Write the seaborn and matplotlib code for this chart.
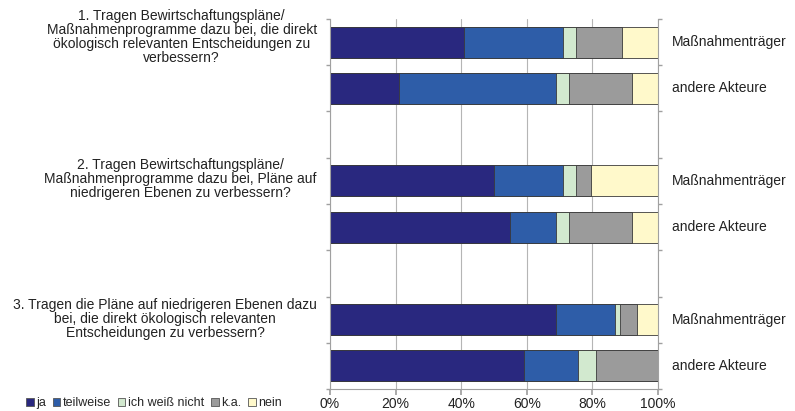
import matplotlib
matplotlib.use("Agg")
import matplotlib.pyplot as plt
import matplotlib.transforms as mtransforms
from matplotlib.patches import Patch
import seaborn as sns
import pandas as pd
import numpy as np

# ---------------- data ----------------
questions = [
    "1. Tragen Bewirtschaftungspläne/\nMaßnahmenprogramme dazu bei, die direkt\nökologisch relevanten Entscheidungen zu\nverbessern?",
    "2. Tragen Bewirtschaftungspläne/\nMaßnahmenprogramme dazu bei, Pläne auf\nniedrigeren Ebenen zu verbessern?",
    "3. Tragen die Pläne auf niedrigeren Ebenen dazu\nbei, die direkt ökologisch relevanten\nEntscheidungen zu verbessern?",
]
groups = ["Maßnahmenträger", "andere Akteure"]
answers = ["ja", "teilweise", "ich weiß nicht", "k.a.", "nein"]

# order of bars: Q1 Maßnahmenträger, Q1 andere, Q2 M, Q2 a, Q3 M, Q3 a
ja = [41, 21, 50, 55, 69, 59]
teilweise = [30, 48, 21, 14, 18, 16.5]
ich_weiss_nicht = [4, 4, 4, 4, 1.5, 5.5]
ka = [14, 19, 4.5, 19, 5, 19]
nein = [11, 8, 20.5, 8, 6.5, 0]

x_ticks = [0, 20, 40, 60, 80, 100]
x_tick_labels = ["0%", "20%", "40%", "60%", "80%", "100%"]

# ---------------- style ----------------
colors = ["#29287f", "#2e5da8", "#d2e9cf", "#9b9b9b", "#fff9cb"]
q_label_y = [-0.12, 2.97, 5.99]

sns.set_theme(style="white")
plt.rcParams["font.family"] = ["Liberation Sans", "DejaVu Sans"]

series = [ja, teilweise, ich_weiss_nicht, ka, nein]
rows = []
for i in range(6):
    qi, gi = divmod(i, 2)
    pos = qi * 3 + gi
    for ans, vals in zip(answers, series):
        rows.append({"pos": pos, "question": qi, "group": groups[gi],
                     "answer": ans, "value": vals[i]})
df = pd.DataFrame(rows)
df["cum"] = df.groupby("pos")["value"].cumsum()

fig = plt.figure(figsize=(7.95, 4.11), dpi=100)
ax = fig.add_axes([330 / 795, 1 - 389 / 411, 328 / 795, 370 / 411])

for ans, col in reversed(list(zip(answers, colors))):
    sub = df[df["answer"] == ans]
    sns.barplot(data=sub, x="cum", y="pos", orient="h", native_scale=True,
                color=col, saturation=1, width=0.67, errorbar=None,
                edgecolor="#3a3a3a", linewidth=0.6, ax=ax)

ax.set_xlim(0, 100)
ax.set_ylim(7.5, -0.5)
ax.set_xlabel("")
ax.set_ylabel("")
ax.set_xticks(x_ticks)
ax.set_xticklabels(x_tick_labels, fontsize=10, color="#222222")
ax.set_yticks([])
ax.set_yticks(np.arange(-0.5, 8, 1), minor=True)
ax.tick_params(axis="y", which="minor", length=3, color="#a0a0a0",
               left=True, right=True, direction="out")
ax.tick_params(axis="x", which="major", length=4, color="#a0a0a0",
               bottom=True, pad=2)
ax.grid(axis="x", color="#b5b5b5", linewidth=0.8)
ax.grid(axis="y", visible=False)
ax.set_axisbelow(True)
for s in ["left", "right", "bottom"]:
    ax.spines[s].set_visible(True)
    ax.spines[s].set_color("#a0a0a0")
    ax.spines[s].set_linewidth(0.8)
ax.spines["top"].set_visible(False)

trans = mtransforms.blended_transform_factory(ax.transAxes, ax.transData)
for qi, q in enumerate(questions):
    ax.text(-0.04, q_label_y[qi], q, transform=trans, ha="right", va="center",
            multialignment="center", fontsize=10, color="#222222",
            linespacing=1.0)
for i in range(6):
    qi, gi = divmod(i, 2)
    ax.text(1.043, qi * 3 + gi, groups[gi], transform=trans, ha="left",
            va="center", fontsize=10, color="#222222")

handles = [Patch(facecolor=c, edgecolor="#555555", linewidth=0.6) for c in colors]
fig.legend(handles, answers, loc="center left",
           bbox_to_anchor=(26 / 795, 1 - 403 / 411), ncol=5, frameon=False,
           handlelength=0.6, handleheight=0.6, handletextpad=0.2,
           columnspacing=0.55, fontsize=9, borderaxespad=0, borderpad=0)

fig.savefig("out.png", dpi=100)
